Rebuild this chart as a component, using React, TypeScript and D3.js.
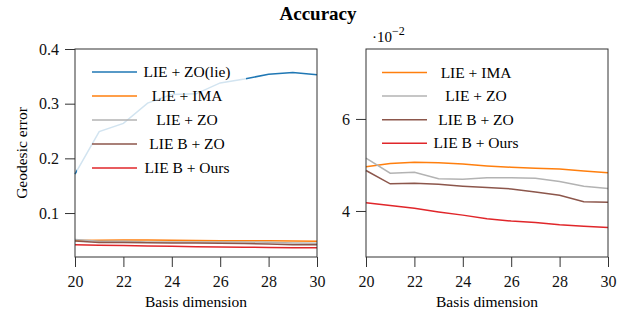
import React, { useEffect, useRef } from 'react';
import * as d3 from 'd3';

// basis dimension on the x axis
const dims = [20, 21, 22, 23, 24, 25, 26, 27, 28, 29, 30];

// geodesic error values
const lieZoLie = [0.171, 0.249, 0.264, 0.301, 0.317, 0.318, 0.338, 0.345, 0.354, 0.357, 0.353];
// these four are given in units of 1e-2
const lieIma = [4.96, 5.03, 5.06, 5.05, 5.02, 4.98, 4.95, 4.93, 4.91, 4.87, 4.83];
const lieZo = [5.15, 4.82, 4.84, 4.70, 4.69, 4.72, 4.72, 4.71, 4.64, 4.54, 4.49];
const lieBZo = [4.88, 4.59, 4.60, 4.58, 4.54, 4.51, 4.48, 4.41, 4.34, 4.20, 4.19];
const lieBOurs = [4.18, 4.12, 4.06, 3.98, 3.91, 3.83, 3.78, 3.75, 3.70, 3.67, 3.64];

const xTicks = [20, 22, 24, 26, 28, 30];
const leftYTicks = [0.1, 0.2, 0.3, 0.4];
const rightYTicks = [4, 6];

const FONT = '"Liberation Serif", "DejaVu Serif", serif';

const App = () => {
  const svgRef = useRef<SVGSVGElement>(null);

  useEffect(() => {
    const svg = d3.select(svgRef.current);
    svg.selectAll('*').remove();

    const top = 49;
    const bottom = 257;

    const series = [
      { name: 'LIE + ZO(lie)', color: '#1f77b4', values: lieZoLie, scaled: false },
      { name: 'LIE + IMA', color: '#ff7f0e', values: lieIma, scaled: true },
      { name: 'LIE + ZO', color: '#b3b3b3', values: lieZo, scaled: true },
      { name: 'LIE B + ZO', color: '#8c564b', values: lieBZo, scaled: true },
      { name: 'LIE B + Ours', color: '#e0262a', values: lieBOurs, scaled: true },
    ];

    // title
    svg.append('text')
      .attr('x', 318).attr('y', 20)
      .attr('text-anchor', 'middle')
      .attr('font-family', FONT)
      .attr('font-weight', 'bold')
      .attr('font-size', 19)
      .text('Accuracy');

    const drawPanel = (opts: {
      left: number; right: number; yDomain: [number, number]; yTicks: number[];
      yFormat: (v: number) => string; lines: typeof series; factor: number;
      legend: { x0: number; y0: number; x1: number; y1: number; lineX: number; textX: number; rowY: number; rowGap: number };
    }) => {
      const x = d3.scaleLinear().domain([20, 30]).range([opts.left, opts.right]);
      const y = d3.scaleLinear().domain(opts.yDomain).range([bottom, top]);
      const g = svg.append('g');

      const line = d3.line<number>()
        .x((_, i) => x(dims[i]))
        .y(v => y(v));

      opts.lines.forEach(s => {
        const vals = s.values.map(v => (s.scaled ? v * opts.factor : v));
        g.append('path')
          .datum(vals)
          .attr('fill', 'none')
          .attr('stroke', s.color)
          .attr('stroke-width', 1.5)
          .attr('d', line);
      });

      // legend (semi transparent white box)
      const lg = opts.legend;
      g.append('rect')
        .attr('x', lg.x0).attr('y', lg.y0)
        .attr('width', lg.x1 - lg.x0).attr('height', lg.y1 - lg.y0)
        .attr('fill', 'white').attr('fill-opacity', 0.8);
      opts.lines.forEach((s, i) => {
        const ry = lg.rowY + i * lg.rowGap;
        g.append('line')
          .attr('x1', lg.lineX).attr('x2', lg.lineX + 45)
          .attr('y1', ry).attr('y2', ry)
          .attr('stroke', s.color).attr('stroke-width', 1.5);
        g.append('text')
          .attr('x', lg.textX).attr('y', ry + 5)
          .attr('text-anchor', 'middle')
          .attr('font-family', FONT).attr('font-size', 15.5)
          .text(s.name);
      });

      // frame
      g.append('rect')
        .attr('x', opts.left).attr('y', top)
        .attr('width', opts.right - opts.left).attr('height', bottom - top)
        .attr('fill', 'none').attr('stroke', '#333').attr('stroke-width', 1);

      // x axis
      const xAxis = d3.axisBottom(x).tickValues(xTicks).tickSize(10).tickSizeOuter(0)
        .tickFormat(d3.format('d'));
      const xg = g.append('g').attr('transform', `translate(0, ${bottom})`).call(xAxis);
      xg.attr('font-family', FONT);
      xg.select('.domain').remove();
      xg.selectAll('line').attr('stroke', '#333');
      xg.selectAll('text').attr('font-family', FONT).attr('font-size', 16)
        .attr('fill', '#111').attr('dy', '1.05em');

      // y axis
      const yAxis = d3.axisLeft(y).tickValues(opts.yTicks).tickSize(10).tickSizeOuter(0)
        .tickFormat(d => opts.yFormat(d as number));
      const yg = g.append('g').attr('transform', `translate(${opts.left}, 0)`).call(yAxis);
      yg.attr('font-family', FONT);
      yg.select('.domain').remove();
      yg.selectAll('line').attr('stroke', '#333');
      yg.selectAll('text').attr('font-family', FONT).attr('font-size', 16)
        .attr('fill', '#111').attr('x', -16);

      g.append('text')
        .attr('x', (opts.left + opts.right) / 2).attr('y', 307)
        .attr('text-anchor', 'middle')
        .attr('font-family', FONT).attr('font-size', 15.5)
        .text('Basis dimension');
    };

    drawPanel({
      left: 75, right: 317, yDomain: [0.0196, 0.4], yTicks: leftYTicks,
      yFormat: d3.format('.1f'), lines: series, factor: 0.01,
      legend: { x0: 77, y0: 57, x1: 246, y1: 180, lineX: 92, textX: 187, rowY: 72, rowGap: 24 },
    });

    drawPanel({
      left: 366, right: 608, yDomain: [3.0, 7.52], yTicks: rightYTicks,
      yFormat: d3.format('d'), lines: series.slice(1), factor: 1,
      legend: { x0: 372, y0: 58, x1: 530, y1: 154, lineX: 382, textX: 476, rowY: 72.5, rowGap: 23.6 },
    });

    // exponent label
    const exp = svg.append('text')
      .attr('x', 372).attr('y', 42)
      .attr('font-family', FONT).attr('font-size', 15);
    exp.append('tspan').text('·10');
    exp.append('tspan').attr('dy', -7).attr('font-size', 12).text('−2');

    // y axis label
    svg.append('text')
      .attr('transform', 'translate(27, 153) rotate(-90)')
      .attr('text-anchor', 'middle')
      .attr('font-family', FONT).attr('font-size', 15.5)
      .text('Geodesic error');
  }, []);

  return (
    <svg
      ref={svgRef}
      width={635}
      height={320}
      style={{ position: 'absolute', left: 0, top: 0, background: 'white' }}
    />
  );
};

export default App;
